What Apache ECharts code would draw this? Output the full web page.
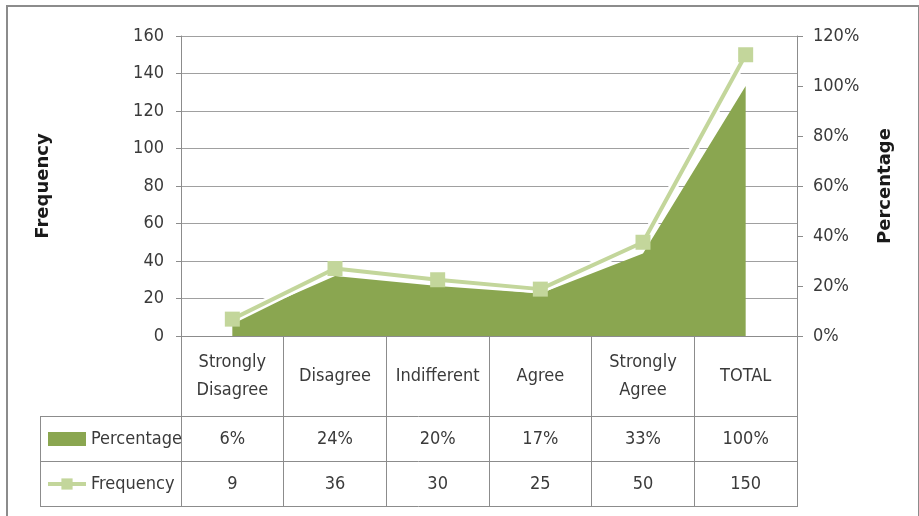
<!DOCTYPE html>
<html>
<head>
<meta charset="utf-8">
<script src="https://cdn.jsdelivr.net/npm/echarts@6/dist/echarts.min.js"></script>
<style>
  html, body { margin: 0; padding: 0; background: #fff; }
  #chart { width: 919px; height: 516px; }
</style>
</head>
<body>
<div id="chart"></div>
<script>
// Survey responses: share of respondents (%) and head count per answer
const categories = ['Strongly\nDisagree', 'Disagree', 'Indifferent', 'Agree', 'Strongly\nAgree', 'TOTAL'];
const percentage = [6, 24, 20, 17, 33, 100];
const frequency = [9, 36, 30, 25, 50, 150];

// Data-table rows shown under the plot
const percentageRow = percentage.map(v => v + '%');
const frequencyRow = frequency.map(v => String(v));

const FONT = '"DejaVu Sans Condensed", "Liberation Sans Narrow", "Noto Sans", sans-serif';
const TEXT = '#3a3a3a';
const LINE = '#8c8c8c';
const GRID = '#a0a0a0';
const AREA = '#8aa650';
const LIGHT = '#c3d69b';

const labelStyle = { fontFamily: FONT, fontSize: 18, color: TEXT };
const titleStyle = { fontFamily: '"DejaVu Sans", sans-serif', fontWeight: 'bold', fontSize: 18, color: '#1a1a1a' };

const chart = echarts.init(document.getElementById('chart'), null, { renderer: 'canvas' });

chart.setOption({
  animation: false,
  backgroundColor: '#fff',
  grid: { left: 181, right: 122, top: 36, bottom: 180 },
  legend: {
    orient: 'vertical',
    left: 46,
    top: 427,
    padding: 0,
    itemWidth: 38,
    itemHeight: 14,
    itemGap: 21,
    selectedMode: false,
    data: [
      { name: 'Percentage', icon: 'rect' },
      { name: 'Frequency', lineStyle: { width: 4, color: LIGHT } }
    ],
    textStyle: Object.assign({ lineHeight: 24 }, labelStyle)
  },
  xAxis: [
    {
      type: 'category',
      data: categories,
      position: 'bottom',
      boundaryGap: true,
      axisLine: { onZero: false, lineStyle: { color: LINE } },
      axisTick: { show: true, interval: 0, length: 171, lineStyle: { color: LINE } },
      axisLabel: Object.assign({ interval: 0, margin: 40, verticalAlign: 'middle', lineHeight: 28, align: 'center' }, labelStyle),
      splitLine: { show: false }
    },
    {
      type: 'category',
      data: percentageRow,
      position: 'bottom',
      offset: 80,
      axisLine: { show: false },
      axisTick: { show: false },
      axisLabel: Object.assign({ interval: 0, margin: 23, verticalAlign: 'middle' }, labelStyle)
    },
    {
      type: 'category',
      data: frequencyRow,
      position: 'bottom',
      offset: 126,
      axisLine: { show: false },
      axisTick: { show: false },
      axisLabel: Object.assign({ interval: 0, margin: 22, verticalAlign: 'middle' }, labelStyle)
    }
  ],
  yAxis: [
    {
      type: 'value',
      position: 'left',
      min: 0, max: 160, interval: 20,
      axisLine: { show: true, lineStyle: { color: LINE } },
      axisTick: { show: true, length: 5, lineStyle: { color: LINE } },
      axisLabel: Object.assign({ margin: 17 }, labelStyle),
      splitLine: { show: true, lineStyle: { color: GRID, width: 1 } },
      name: 'Frequency',
      nameLocation: 'middle',
      nameRotate: 90,
      nameGap: 129,
      nameTextStyle: titleStyle
    },
    {
      type: 'value',
      position: 'right',
      min: 0, max: 120, interval: 20,
      axisLine: { show: true, lineStyle: { color: LINE } },
      axisTick: { show: true, length: 6, lineStyle: { color: LINE } },
      axisLabel: Object.assign({ margin: 16, formatter: '{value}%' }, labelStyle),
      splitLine: { show: false },
      name: 'Percentage',
      nameLocation: 'middle',
      nameRotate: 90,
      nameGap: 79,
      nameTextStyle: titleStyle
    }
  ],
  series: [
    {
      name: 'Percentage',
      type: 'line',
      xAxisIndex: 0,
      yAxisIndex: 1,
      data: percentage,
      symbol: 'none',
      lineStyle: { width: 0, color: AREA },
      itemStyle: { color: AREA },
      areaStyle: { color: AREA, opacity: 1 },
      z: 1,
      silent: true
    },
    {
      // white halo that separates the frequency line from the area below it
      name: 'frequency-halo',
      type: 'line',
      xAxisIndex: 0,
      yAxisIndex: 0,
      data: frequency,
      symbol: 'none',
      lineStyle: { width: 9, color: '#ffffff' },
      z: 2,
      silent: true
    },
    {
      name: 'Frequency',
      type: 'line',
      xAxisIndex: 0,
      yAxisIndex: 0,
      data: frequency,
      symbol: 'rect',
      symbolSize: 15,
      lineStyle: { width: 4, color: LIGHT },
      itemStyle: { color: LIGHT },
      z: 3
    }
  ],
  graphic: [
    // outer frame
    { type: 'rect', shape: { x: 7, y: 6, width: 912, height: 530 }, style: { fill: 'none', stroke: LINE, lineWidth: 2 }, silent: true },
    // data-table rules
    { type: 'line', shape: { x1: 40, y1: 416.5, x2: 797, y2: 416.5 }, style: { stroke: LINE, lineWidth: 1 }, silent: true },
    { type: 'line', shape: { x1: 40, y1: 461.5, x2: 797, y2: 461.5 }, style: { stroke: LINE, lineWidth: 1 }, silent: true },
    { type: 'line', shape: { x1: 40, y1: 506.5, x2: 797, y2: 506.5 }, style: { stroke: LINE, lineWidth: 1 }, silent: true },
    { type: 'line', shape: { x1: 40.5, y1: 416, x2: 40.5, y2: 507 }, style: { stroke: LINE, lineWidth: 1 }, silent: true }
  ]
});
</script>
</body>
</html>
